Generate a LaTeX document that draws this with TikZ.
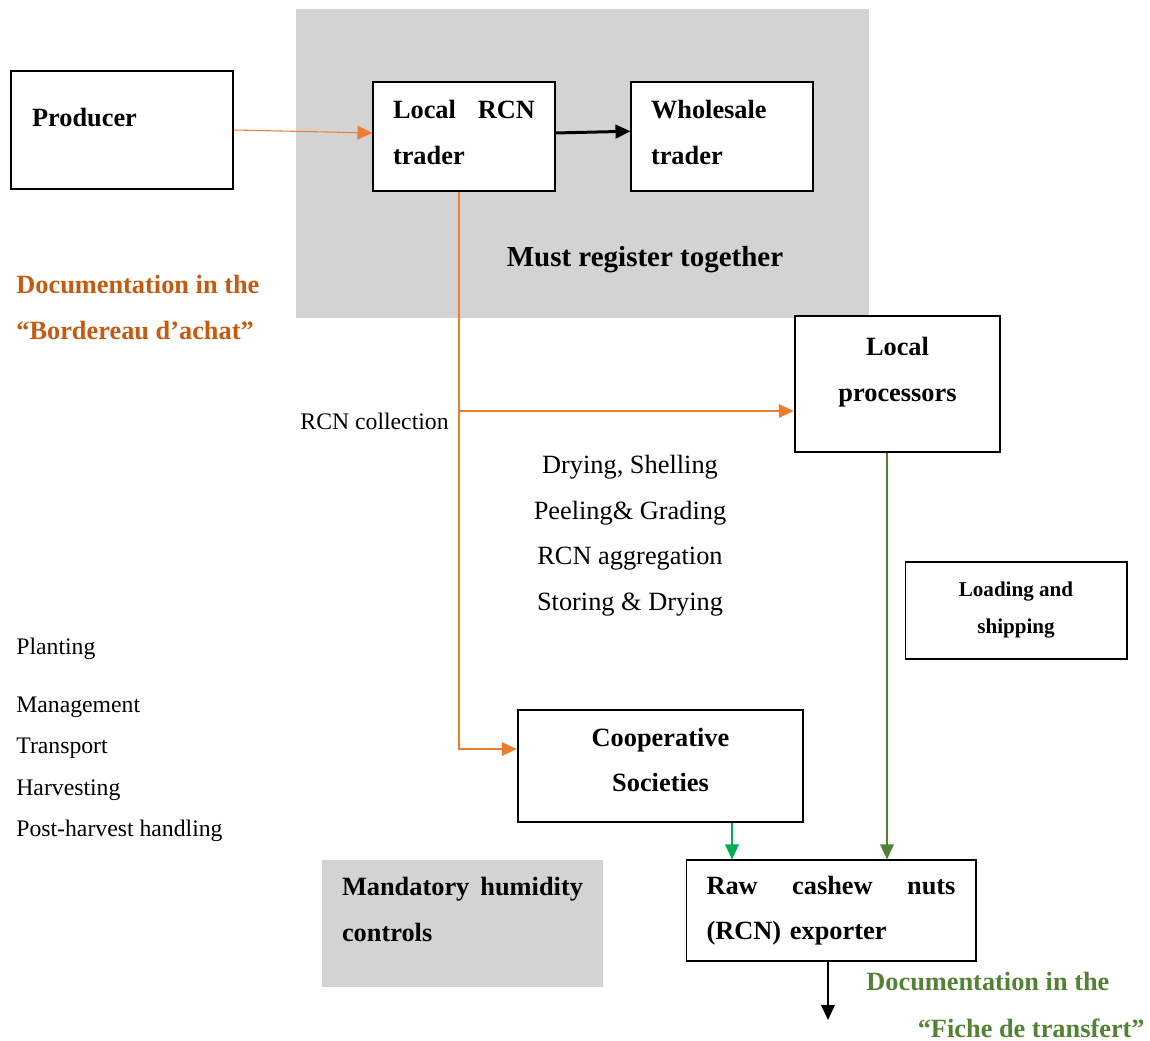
\documentclass[tikz,border=0pt]{standalone}
\usepackage{fontspec}
\setmainfont{Liberation Serif}
\usepackage{tikz}
\usetikzlibrary{arrows.meta,positioning}

\definecolor{greybg}{RGB}{211,211,211}
\definecolor{orline}{RGB}{237,125,49}
\definecolor{ortext}{RGB}{197,90,17}
\definecolor{olivegr}{RGB}{84,130,53}
\definecolor{brightgr}{RGB}{0,176,80}

\tikzset{
  boxtext/.style={font=\fontsize{15}{26}\selectfont\bfseries},
  thinbox/.style={draw, line width=0.6pt, fill=white, inner sep=0pt, boxtext},
  thickbox/.style={thinbox, line width=1.4pt},
  plaintext/.style={font=\fontsize{13.5}{16}\selectfont, inner sep=0pt},
  flowarrow/.style={line width=#1, -{Triangle[length=0.3cm,width=0.27cm]}},
  flowarrow/.default=0.9pt
}

\begin{document}
\begin{tikzpicture}[x=0.02cm,y=-0.02cm]
           \useasboundingbox (0,0) rectangle (1150,1041);

           % Feltet for registrering
           \fill[greybg] (296,9) rectangle (869,318);
           \node[font=\fontsize{16.5}{20}\selectfont\bfseries] (must) at (645,260) {Must register together};

           % Boksene
           \node[thickbox, minimum width=4.44cm, minimum height=2.36cm, text width=3.6cm, align=left, text depth=14pt] (prod) at (122,130) {Producer};
           \node[thinbox, minimum width=3.64cm, minimum height=2.18cm, text width=2.84cm, align=left, text depth=31pt] (trader) at (464,136.5) {\makebox[2.84cm]{Local\hfill RCN}\\trader};
           \node[thinbox, minimum width=3.64cm, minimum height=2.18cm, text width=2.84cm, align=left, text depth=31pt] (whole) at (722,136.5) {Wholesale\\trader};
           \node[thickbox, minimum width=4.1cm, minimum height=2.72cm, align=center, text depth=17pt] (proc) at (897.5,384) {Local\\processors};
           \node[thinbox, minimum width=4.44cm, minimum height=1.94cm, align=center, text depth=3pt, font=\fontsize{12}{21}\selectfont\bfseries] (load) at (1016,610.5) {Loading and\\shipping};
           \node[thickbox, minimum width=5.7cm, minimum height=2.24cm, align=center, text depth=7pt] (coop) at (660.5,766) {Cooperative\\Societies};
           \node[thinbox, minimum width=5.8cm, minimum height=2.02cm, text width=4.98cm, align=left] (exp) at (831,910.5) {\makebox[4.98cm]{Raw\hfill cashew\hfill nuts}\\(RCN) exporter};
           \node[fill=greybg, inner sep=0pt, boxtext, minimum width=5.62cm, minimum height=2.54cm, text width=4.82cm, align=left, text depth=42pt] (mand) at (462.5,923.5) {\makebox[4.82cm]{Mandatory\hfill humidity}\\controls};

           % Tekstene
           \node[boxtext, text=ortext, anchor=west, inner sep=0pt] (docor) at (16,285) {Documentation in the};
           \node[boxtext, text=ortext, anchor=west, inner sep=0pt] (bord) at (16,331) {“Bordereau d’achat”};
           \node[plaintext, anchor=east] (coll) at (449,421) {RCN collection};
           \node[font=\fontsize{15}{18}\selectfont] (dry) at (630,467) {Drying, Shelling};
           \node[font=\fontsize{15}{18}\selectfont] (peel) at (630,513) {Peeling\& Grading};
           \node[font=\fontsize{15}{18}\selectfont] (aggr) at (630,559) {RCN aggregation};
           \node[font=\fontsize{15}{18}\selectfont] (stor) at (630,605) {Storing \& Drying};
           \node[plaintext, anchor=west] (plant) at (16,649) {Planting};
           \node[plaintext, anchor=west] (mgmt) at (16,707) {Management};
           \node[plaintext, anchor=west] (trans) at (16,748) {Transport};
           \node[plaintext, anchor=west] (harv) at (16,790) {Harvesting};
           \node[plaintext, anchor=west] (post) at (16,831) {Post-harvest handling};
           \node[boxtext, text=olivegr, anchor=west, inner sep=0pt] (docgr) at (866,982) {Documentation in the};
           \node[boxtext, text=olivegr, anchor=east, inner sep=0pt] (fiche) at (1145,1028) {“Fiche de transfert”};

           % Punkter for pilene
           \coordinate (split) at (459,411);
           \coordinate (coopin) at (459,749);
           \coordinate (gx) at (887,0);
           \coordinate (bx) at (732,0);
           \coordinate (expout) at (828,1020);

           % Pilene
           \draw[flowarrow=0.6pt, orline] (prod.east) -- ([yshift=2pt]trader.west);
           \draw[flowarrow=1.7pt, black] ([yshift=2pt]trader.east) -- ([yshift=3pt]whole.west);
           \draw[flowarrow=1pt, orline] (trader.south -| split) -- (coopin) -- (coopin -| coop.west);
           \draw[flowarrow=1pt, orline] (split) -- (split -| proc.west);
           \draw[flowarrow=1pt, olivegr] (proc.south -| gx) -- (exp.north -| gx);
           \draw[flowarrow=1pt, brightgr] (coop.south -| bx) -- (exp.north -| bx);
           \draw[flowarrow=1.2pt, black] (exp.south -| expout) -- (expout);
         \end{tikzpicture}
\end{document}
